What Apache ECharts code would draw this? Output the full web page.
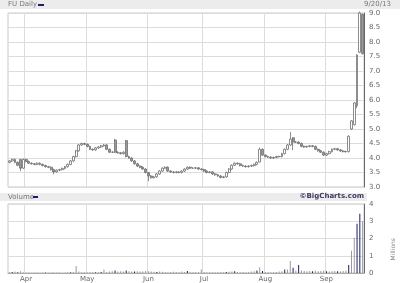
<!DOCTYPE html>
<html><head><meta charset="utf-8">
<script src="https://cdn.jsdelivr.net/npm/echarts@6/dist/echarts.min.js"></script>
<style>html,body{margin:0;padding:0;background:#fff}#c{width:400px;height:283px}</style>
</head><body><div id="c"></div>
<script>
// Trading days (2013) per month
const marDays = [21,22,25,26,27,28];
const aprDays = [1,2,3,4,5,8,9,10,11,12,15,16,17,18,19,22,23,24,25,26,29,30];
const mayDays = [1,2,3,6,7,8,9,10,13,14,15,16,17,20,21,22,23,24,28,29,30,31];
const junDays = [3,4,5,6,7,10,11,12,13,14,17,18,19,20,21,24,25,26,27,28];
const julDays = [1,2,3,5,8,9,10,11,12,15,16,17,18,19,22,23,24,25,26,29,30,31];
const augDays = [1,2,5,6,7,8,9,12,13,14,15,16,19,20,21,22,23,26,27,28,29,30];
const sepDays = [3,4,5,6,9,10,11,12,13,16,17,18,19,20];
const monthNames = ['Mar','Apr','May','Jun','Jul','Aug','Sep'];

// Daily close (USD)
const closes = [3.90,3.95,3.85,3.75,3.65,3.95,3.88,3.82,3.80,3.78,
 3.82,3.78,3.74,3.70,3.68,3.60,3.52,3.58,3.60,3.64,
 3.70,3.78,3.90,4.05,4.25,4.45,4.50,4.47,4.40,4.30,
 4.28,4.35,4.38,4.42,4.45,4.30,4.20,4.20,4.20,4.18,
 4.15,4.20,4.05,4.00,3.90,3.80,3.72,3.68,3.62,3.50,
 3.38,3.32,3.35,3.45,3.55,3.65,3.68,3.55,3.52,3.50,
 3.52,3.50,3.55,3.62,3.68,3.65,3.65,3.66,3.62,3.60,
 3.55,3.50,3.52,3.45,3.42,3.38,3.33,3.35,3.50,3.62,
 3.75,3.82,3.80,3.74,3.72,3.70,3.72,3.74,3.78,3.85,
 4.30,4.10,4.05,4.03,4.00,4.02,4.05,4.05,4.15,4.30,
 4.45,4.65,4.55,4.55,4.50,4.40,4.38,4.40,4.42,4.40,
 4.30,4.25,4.20,4.10,4.15,4.22,4.30,4.32,4.28,4.24,
 4.22,4.22,4.75,5.28,5.90,7.55,9.00,7.60];
// Daily open (USD)
const opens = [3.85,3.90,3.95,3.85,3.95,3.65,3.95,3.88,3.82,3.80,
 3.78,3.82,3.78,3.74,3.70,3.68,3.60,3.52,3.58,3.60,
 3.64,3.70,3.78,3.90,4.05,4.25,4.45,4.50,4.47,4.40,
 4.30,4.28,4.35,4.38,4.42,4.45,4.30,4.20,4.62,4.20,
 4.18,4.15,4.60,4.05,4.00,3.90,3.80,3.72,3.68,3.62,
 3.50,3.38,3.32,3.35,3.45,3.55,3.65,3.68,3.55,3.52,
 3.50,3.52,3.50,3.55,3.62,3.68,3.65,3.65,3.66,3.62,
 3.60,3.55,3.50,3.52,3.45,3.42,3.38,3.33,3.35,3.50,
 3.62,3.75,3.82,3.80,3.74,3.72,3.70,3.72,3.74,3.78,
 3.86,4.30,4.10,4.05,4.03,4.00,4.02,4.05,4.05,4.15,
 4.30,4.45,4.70,4.55,4.55,4.50,4.40,4.38,4.40,4.42,
 4.40,4.30,4.25,4.20,4.10,4.15,4.22,4.30,4.32,4.28,
 4.24,4.22,4.22,5.00,5.15,5.80,7.65,8.95];
// Extra highs / lows where wicks stand out
const highExtra = {4:3.95, 38:4.66, 42:4.62, 50:3.45, 90:4.36, 101:4.90, 102:4.62, 126:9.05};
const lowExtra = {4:3.55, 16:3.44, 50:3.20, 90:3.85, 102:4.27, 125:5.72};

// Volume (millions of shares)
const volumes = [0.04,0.06,0.08,0.05,0.10,0.04,0.03,0.03,0.02,0.03,
 0.03,0.02,0.03,0.03,0.02,0.03,0.04,0.03,0.03,0.02,
 0.03,0.04,0.05,0.06,0.40,0.08,0.05,0.04,0.05,0.04,
 0.05,0.04,0.05,0.06,0.20,0.06,0.08,0.10,0.15,0.08,
 0.10,0.09,0.15,0.10,0.09,0.08,0.10,0.09,0.08,0.12,
 0.10,0.08,0.07,0.06,0.08,0.07,0.06,0.05,0.06,0.07,
 0.06,0.05,0.08,0.06,0.12,0.06,0.05,0.06,0.05,0.20,
 0.06,0.05,0.04,0.05,0.04,0.05,0.06,0.05,0.06,0.07,
 0.08,0.10,0.06,0.05,0.06,0.05,0.06,0.08,0.10,0.15,
 0.33,0.12,0.06,0.05,0.04,0.05,0.06,0.08,0.10,0.20,
 0.20,0.69,0.30,0.15,0.46,0.15,0.12,0.10,0.12,0.10,
 0.15,0.10,0.12,0.15,0.10,0.08,0.10,0.12,0.10,0.08,
 0.12,0.15,0.46,1.29,2.05,2.86,3.44,3.01];
const volNavyIdx = [1,3,13,22,31,33,38,42,45,53,64,78,81,89,91,99,102,104,109,114,118,122,125,126];

const priceTicks = {min:3, max:9, step:0.5};
const volTicks = {min:0, max:4, step:1};

// ---- build ----
const monthLists = [marDays,aprDays,mayDays,junDays,julDays,augDays,sepDays];
const dates = [], monthStart = {};
monthLists.forEach((days, m) => days.forEach((d, k) => {
  if (k === 0 && m > 0) monthStart[dates.length] = monthNames[m];
  dates.push(monthNames[m] + ' ' + d);
}));
const candles = closes.map((c, i) => {
  const o = opens[i];
  const hi = highExtra[i] !== undefined ? highExtra[i] : Math.max(o, c) + 0.03;
  const lo = lowExtra[i] !== undefined ? lowExtra[i] : Math.min(o, c) - 0.03;
  return [o, c, lo, hi];
});
const volData = volumes.map((v, i) => ({
  value: v,
  itemStyle: {color: volNavyIdx.includes(i) ? '#1c1c6b' : '#9a9a9a'}
}));
const isMonth = (idx) => monthStart[idx] !== undefined;
const font = 'DejaVu Sans';
const chart = echarts.init(document.getElementById('c'), null, {renderer: 'canvas'});
chart.setOption({
  animation: false,
  backgroundColor: '#fff',
  grid: [
    {left: 8, top: 13, width: 356, height: 174, show: true, borderColor: '#c8c8c8', borderWidth: 1},
    {left: 8, top: 204, width: 356, height: 69, show: true, borderColor: '#c8c8c8', borderWidth: 1}
  ],
  xAxis: [
    {type: 'category', gridIndex: 0, data: dates, boundaryGap: true,
     axisLine: {show: false}, axisTick: {show: false}, axisLabel: {show: false},
     splitLine: {show: true, interval: isMonth, lineStyle: {color: '#dcdcdc', width: 1}}},
    {type: 'category', gridIndex: 1, data: dates, boundaryGap: true,
     axisLine: {show: true, lineStyle: {color: '#aaa'}}, axisTick: {show: false},
     axisLabel: {show: true, interval: isMonth, formatter: (v, i) => monthStart[i] || '',
       fontFamily: font, fontSize: 7, color: '#666', margin: 3},
     splitLine: {show: true, interval: isMonth, lineStyle: {color: '#dcdcdc', width: 1}}}
  ],
  yAxis: [
    {type: 'value', gridIndex: 0, position: 'right', min: priceTicks.min, max: priceTicks.max, interval: priceTicks.step,
     axisLine: {show: true, lineStyle: {color: '#666'}}, axisTick: {show: false},
     axisLabel: {formatter: v => v.toFixed(1), fontFamily: font, fontSize: 7, color: '#666', margin: 5},
     splitLine: {lineStyle: {color: '#dcdcdc'}}},
    {type: 'value', gridIndex: 1, position: 'right', min: volTicks.min, max: volTicks.max, interval: volTicks.step,
     axisLine: {show: true, lineStyle: {color: '#666'}}, axisTick: {show: false},
     axisLabel: {fontFamily: font, fontSize: 7, color: '#666', margin: 5},
     splitLine: {lineStyle: {color: '#dcdcdc'}}}
  ],
  series: [
    {type: 'candlestick', xAxisIndex: 0, yAxisIndex: 0, data: candles, barWidth: 2.4,
     itemStyle: {color: '#ffffff', color0: '#9a9a9a', borderColor: '#707070', borderColor0: '#707070', borderWidth: 0.8}},
    {type: 'bar', xAxisIndex: 1, yAxisIndex: 1, data: volData, barWidth: 1}
  ],
  graphic: [
    {type: 'rect', shape: {x: 0, y: 0, width: 400, height: 9}, style: {fill: '#ececec'}, z: -1},
    {type: 'text', left: 8, top: 1, style: {text: 'FU Daily', font: '7px "DejaVu Sans"', fill: '#777'}},
    {type: 'rect', shape: {x: 38, y: 4, width: 6, height: 2}, style: {fill: '#1c1c6b'}},
    {type: 'text', left: 364, top: 1, style: {text: '9/20/13', font: '7px "DejaVu Sans"', fill: '#777'}},
    {type: 'rect', shape: {x: 0, y: 193, width: 367, height: 8}, style: {fill: '#ececec'}, z: -1},
    {type: 'text', left: 8, top: 193.5, style: {text: 'Volume', font: '7px "DejaVu Sans"', fill: '#777'}},
    {type: 'rect', shape: {x: 33, y: 196, width: 5, height: 2}, style: {fill: '#1c1c6b'}},
    {type: 'text', right: 36, top: 193, style: {text: '\u00A9BigCharts.com', font: 'bold 7px "DejaVu Sans"', fill: '#3a3a5e'}},
    {type: 'text', left: 390, top: 238, rotation: Math.PI / 2, style: {text: 'Millions', font: '6px "DejaVu Sans"', fill: '#888', align: 'center', verticalAlign: 'middle'}}
  ]
});
</script></body></html>
